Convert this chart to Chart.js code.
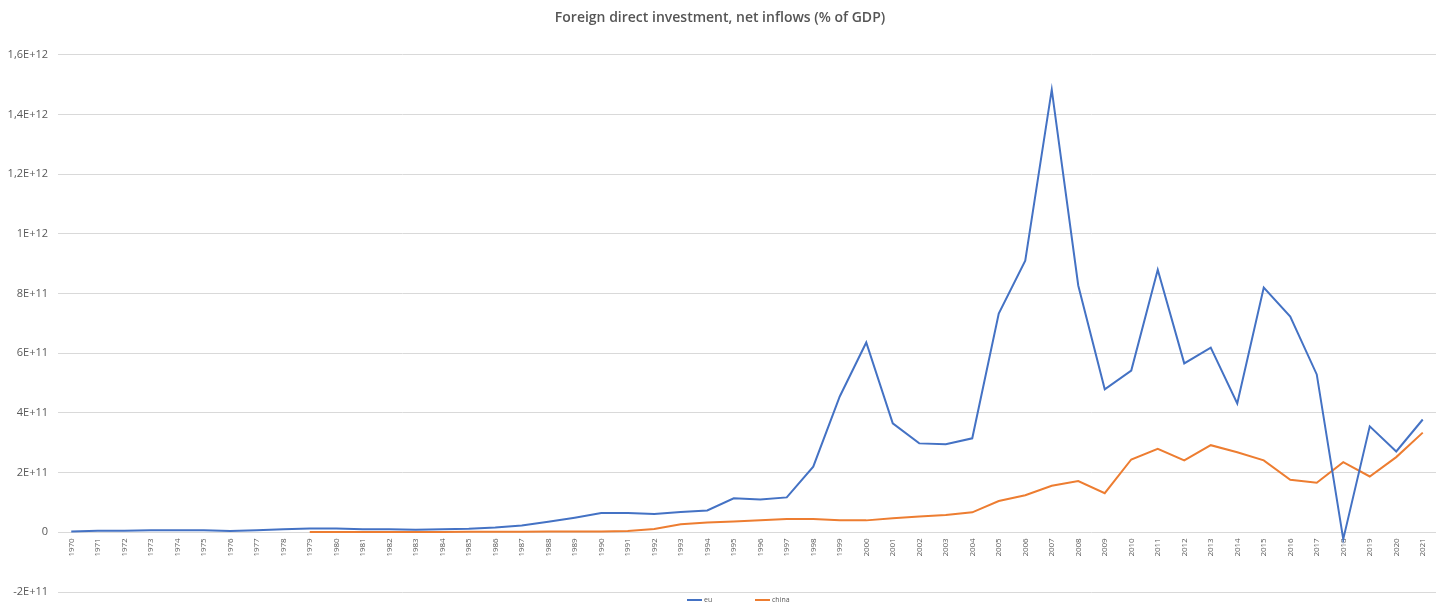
<!DOCTYPE html>
<html>
<head>
<meta charset="utf-8">
<script src="https://cdn.jsdelivr.net/npm/chart.js@4.4.0/dist/chart.umd.min.js"></script>
<style>
    html, body { margin: 0; padding: 0; background: #fff; }
    #wrap { width: 1446px; height: 603px; position: relative; }
</style>
</head>
<body>
<div id="wrap"><canvas id="fdiChart"></canvas></div>
<script>
// Years on the x axis
const years = [];
for (let y = 1970; y <= 2021; y++) years.push(String(y));

// Values in units of 1E11
const euValues = [
    0.03, 0.05, 0.05, 0.07, 0.07, 0.07, 0.04, 0.07, 0.10, 0.13,
    0.13, 0.10, 0.10, 0.09, 0.10, 0.12, 0.16, 0.23, 0.35, 0.49,
    0.65, 0.65, 0.61, 0.68, 0.73, 1.14, 1.10, 1.17, 2.20, 4.55,
    6.36, 3.65, 2.98, 2.95, 3.15, 7.33, 9.10, 14.83, 8.27, 4.79,
    5.42, 8.80, 5.66, 6.19, 4.32, 8.20, 7.23, 5.29, -0.23, 3.55,
    2.71, 3.78
];
const chinaValues = [
    null, null, null, null, null, null, null, null, null, 0.01,
    0.01, 0.01, 0.01, 0.01, 0.01, 0.02, 0.02, 0.02, 0.03, 0.03,
    0.03, 0.04, 0.11, 0.27, 0.33, 0.36, 0.40, 0.45, 0.45, 0.40,
    0.40, 0.47, 0.53, 0.58, 0.67, 1.05, 1.24, 1.56, 1.72, 1.31,
    2.44, 2.80, 2.41, 2.92, 2.68, 2.41, 1.76, 1.66, 2.35, 1.87,
    2.52, 3.34
];
const scale = 1e11;

function formatTick(value) {
    if (value === 0) return '0';
    const exp = Math.floor(Math.log10(Math.abs(value)));
    const mant = Math.round(value / Math.pow(10, exp) * 10) / 10;
    return String(mant).replace('.', ',') + 'E+' + exp;
}

// Small Excel-style legend drawn under the plot
const bottomLegend = {
    id: 'bottomLegend',
    afterDraw(chart) {
        const c = chart.ctx;
        const y = 600;
        const starts = [687, 755];
        c.save();
        c.font = '7px "Open Sans"';
        c.textBaseline = 'middle';
        chart.data.datasets.forEach((ds, i) => {
            const x = starts[i];
            c.strokeStyle = ds.borderColor;
            c.lineWidth = 2;
            c.beginPath();
            c.moveTo(x, y);
            c.lineTo(x + 15, y);
            c.stroke();
            c.fillStyle = '#595959';
            c.fillText(ds.label, x + 17, y);
        });
        c.restore();
    }
};

const ctx = document.getElementById('fdiChart');
new Chart(ctx, {
    type: 'line',
    data: {
        labels: years,
        datasets: [{
            label: 'eu',
            data: euValues.map(v => v === null ? null : v * scale),
            borderColor: '#4472C4',
            backgroundColor: '#4472C4',
            borderWidth: 2,
            pointRadius: 0,
            tension: 0,
            fill: false
        }, {
            label: 'china',
            data: chinaValues.map(v => v === null ? null : v * scale),
            borderColor: '#ED7D31',
            backgroundColor: '#ED7D31',
            borderWidth: 2,
            pointRadius: 0,
            tension: 0,
            fill: false
        }]
    },
    plugins: [bottomLegend],
    options: {
        responsive: true,
        maintainAspectRatio: false,
        animation: false,
        layout: { padding: { left: 4, right: 10, top: 8, bottom: 11 } },
        plugins: {
            title: {
                display: true,
                text: 'Foreign direct investment, net inflows (% of GDP)',
                color: '#555555',
                font: { family: 'Open Sans', size: 14, weight: '600' },
                padding: { top: 2, bottom: 28 }
            },
            legend: { display: false },
            tooltip: { enabled: false }
        },
        scales: {
            x: {
                position: { y: 0 },
                offset: true,
                afterFit: function(axis) { axis.height = 0; },
                grid: { display: false, drawTicks: false },
                border: { display: false },
                ticks: {
                    color: '#595959',
                    font: { family: 'Open Sans', size: 8 },
                    minRotation: 90,
                    maxRotation: 90,
                    autoSkip: false,
                    padding: 6
                }
            },
            y: {
                min: -2e11,
                max: 1.6e12,
                afterFit: function(axis) {
                    axis.width = 54;
                    axis.paddingTop = 0;
                    axis.paddingBottom = 0;
                },
                grid: { color: '#d9d9d9', drawTicks: false },
                border: { display: false },
                ticks: {
                    stepSize: 2e11,
                    color: '#595959',
                    font: { family: 'Open Sans', size: 11 },
                    padding: 10,
                    callback: function(value) { return formatTick(value); }
                }
            }
        }
    }
});
</script>
</body>
</html>
